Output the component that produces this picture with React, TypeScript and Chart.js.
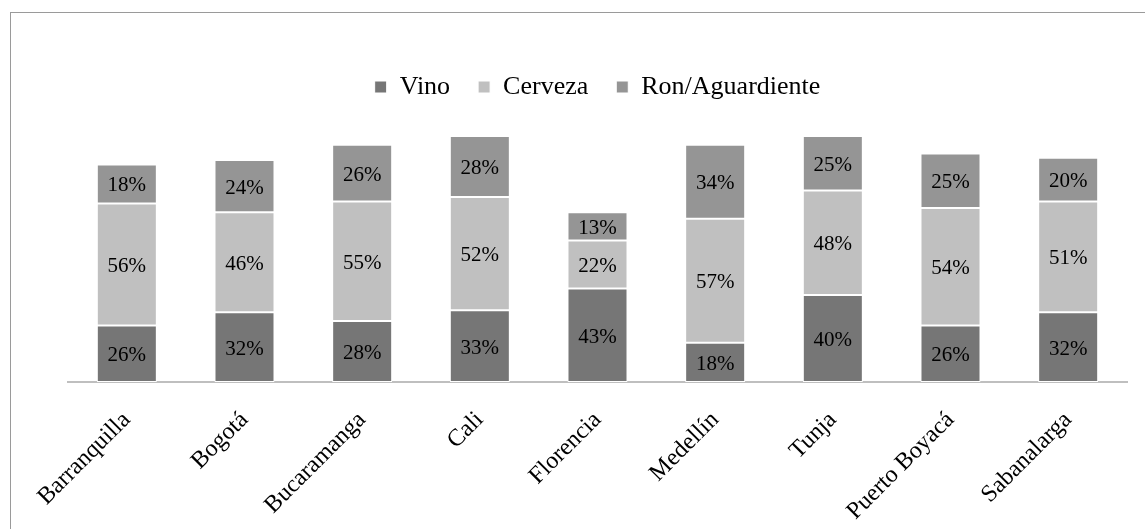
import React, { useEffect, useRef } from "react";
import { Chart, registerables } from "chart.js";

Chart.register(...registerables);

const categories = [
  "Barranquilla",
  "Bogotá",
  "Bucaramanga",
  "Cali",
  "Florencia",
  "Medellín",
  "Tunja",
  "Puerto Boyacá",
  "Sabanalarga",
];
const vino = [26, 32, 28, 33, 43, 18, 40, 26, 32];
const cerveza = [56, 46, 55, 52, 22, 57, 48, 54, 51];
const ron = [18, 24, 26, 28, 13, 34, 25, 25, 20];
const seriesNames = ["Vino", "Cerveza", "Ron/Aguardiente"];
const seriesColors = ["#767676", "#c0c0c0", "#959595"];

const FONT = '"Liberation Serif", "Times New Roman", serif';

const dataLabelPlugin = {
  id: "segmentLabels",
  afterDatasetsDraw(chart: any) {
    const ctx = chart.ctx;
    ctx.save();
    ctx.font = `21px ${FONT}`;
    ctx.fillStyle = "#000";
    ctx.textAlign = "center";
    ctx.textBaseline = "middle";
    chart.data.datasets.forEach((ds: any, di: number) => {
      const meta = chart.getDatasetMeta(di);
      meta.data.forEach((el: any, i: number) => {
        const v = ds.data[i];
        const cy = (el.y + el.base) / 2;
        ctx.fillText(`${v}%`, el.x, cy + 2);
      });
    });
    ctx.restore();
  },
};

export default function App() {
  const ref = useRef<HTMLCanvasElement | null>(null);

  useEffect(() => {
    if (!ref.current) return;
    const seriesData = [vino, cerveza, ron];
    const chart = new Chart(ref.current, {
      type: "bar",
      data: {
        labels: categories,
        datasets: seriesNames.map((name, i) => ({
          label: name,
          data: seriesData[i],
          backgroundColor: seriesColors[i],
          borderColor: "#ffffff",
          borderWidth: 1,
          borderSkipped: false,
          categoryPercentage: 1,
          barPercentage: 0.51,
          clip: false as any,
        })),
      },
      options: {
        animation: false,
        responsive: false,
        maintainAspectRatio: false,
        layout: { padding: { left: 68, right: 18, top: 46, bottom: 0 } },
        plugins: {
          legend: {
            position: "top",
            labels: {
              font: { family: FONT, size: 26 },
              color: "#000",
              boxWidth: 12,
              boxHeight: 12,
              padding: 28,
            },
          },
          tooltip: { enabled: false },
          title: { display: false },
        },
        scales: {
          x: {
            stacked: true,
            grid: { display: false, drawTicks: false },
            border: { display: true, color: "#bfbfbf", width: 2 },
            ticks: {
              font: { family: FONT, size: 24 },
              color: "#000",
              maxRotation: 45,
              minRotation: 45,
              padding: 24,
            },
            afterFit: (scale: any) => {
              scale.height = 147;
            },
          },
          y: {
            stacked: true,
            display: false,
            min: 0,
            max: 125,
          },
        },
      },
      plugins: [dataLabelPlugin],
    });
    return () => chart.destroy();
  }, []);

  return (
    <div
      style={{
        position: "absolute",
        left: 0,
        top: 0,
        width: 1145,
        height: 529,
        background: "#fff",
        overflow: "hidden",
      }}
    >
      <div
        style={{
          position: "absolute",
          left: 10,
          top: 12,
          width: 1200,
          height: 600,
          borderTop: "1px solid #9a9a9a",
          borderLeft: "1px solid #9a9a9a",
        }}
      />
      <canvas
        ref={ref}
        width={1145}
        height={529}
        style={{ position: "absolute", left: 0, top: 0, width: 1145, height: 529 }}
      />
    </div>
  );
}
